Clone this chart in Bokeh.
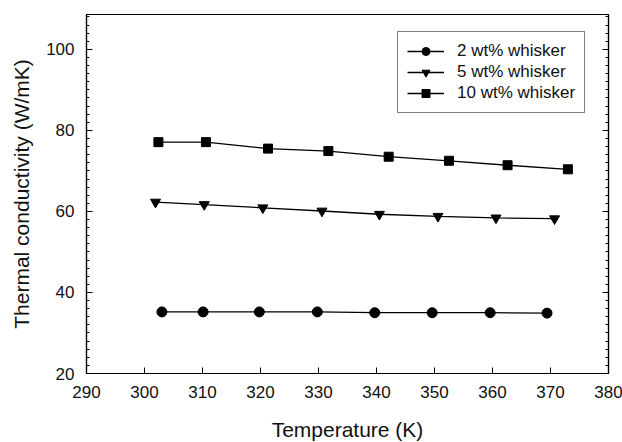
from bokeh.plotting import figure
from bokeh.models import (Legend, LegendItem, LinearAxis, Range1d, FixedTicker,
                          CustomLabelingPolicy)
from bokeh.embed import file_html
from bokeh.resources import INLINE

# Data
temp_2 = [303.0, 310.1, 319.8, 329.8, 339.7, 349.6, 359.6, 369.4]
k_2 = [35.2, 35.2, 35.2, 35.2, 35.0, 35.0, 35.0, 34.9]

temp_5 = [301.9, 310.3, 320.4, 330.6, 340.5, 350.6, 360.6, 370.7]
k_5 = [62.3, 61.7, 60.9, 60.1, 59.3, 58.8, 58.4, 58.2]

temp_10 = [302.4, 310.6, 321.3, 331.7, 342.1, 352.5, 362.6, 373.0]
k_10 = [77.1, 77.1, 75.5, 74.9, 73.5, 72.5, 71.4, 70.4]

series_labels = ["2 wt% whisker", "5 wt% whisker", "10 wt% whisker"]
x_ticks = [290, 300, 310, 320, 330, 340, 350, 360, 370, 380]
y_ticks = [20, 40, 60, 80, 100]
y_minor = list(range(20, 110, 2))

FONT = "Liberation Sans"
TXT = "#111111"

p = figure(width=622, height=442, output_backend="svg", toolbar_location=None,
           x_range=Range1d(290, 380), y_range=Range1d(20, 108.6),
           frame_width=522, frame_height=359,
           min_border_left=86, min_border_right=0, min_border_top=14, min_border_bottom=0)
p.grid.visible = False
p.background_fill_color = "white"
p.border_fill_color = "white"
p.outline_line_color = "black"
p.outline_line_width = 1.2

for ax in [p.xaxis[0], p.yaxis[0]]:
    ax.major_tick_in = 6
    ax.major_tick_out = 0
    ax.minor_tick_in = 3
    ax.minor_tick_out = 0
    ax.axis_line_color = "black"
    ax.axis_line_width = 1.2
    ax.major_tick_line_color = "black"
    ax.minor_tick_line_color = "black"
    ax.major_label_text_font = FONT
    ax.major_label_text_font_size = "17px"
    ax.major_label_text_color = TXT
    ax.axis_label_text_font = FONT
    ax.axis_label_text_font_size = "21px"
    ax.axis_label_text_font_style = "normal"
    ax.axis_label_text_color = TXT

p.xaxis[0].ticker = FixedTicker(ticks=x_ticks)
p.xaxis[0].minor_tick_line_color = None
p.xaxis[0].axis_label = "Temperature (K)"
p.xaxis[0].major_label_standoff = 12
p.xaxis[0].axis_label_standoff = 17

p.yaxis[0].ticker = FixedTicker(ticks=y_ticks, minor_ticks=y_minor)
p.yaxis[0].axis_label = "Thermal conductivity (W/mK)"
p.yaxis[0].major_label_standoff = 12
p.yaxis[0].axis_label_standoff = 10

right = LinearAxis(ticker=FixedTicker(ticks=y_ticks, minor_ticks=y_minor))
right.major_tick_in = 6
right.major_tick_out = 0
right.minor_tick_in = 3
right.minor_tick_out = 0
right.major_label_standoff = 0
right.axis_line_color = "black"
right.axis_line_width = 1.2
right.major_label_policy = CustomLabelingPolicy(
    code="for (const i of Array.from(indices)) { indices.unset(i) } return indices")
p.add_layout(right, "right")

lw = 1.3
l2 = p.line(temp_2, k_2, line_color="black", line_width=lw)
m2 = p.scatter(temp_2, k_2, marker="circle", size=10, fill_color="black", line_color="black")
l5 = p.line(temp_5, k_5, line_color="black", line_width=lw)
m5 = p.scatter(temp_5, k_5, marker="inverted_triangle", size=10, fill_color="black", line_color="black")
l10 = p.line(temp_10, k_10, line_color="black", line_width=lw)
m10 = p.scatter(temp_10, k_10, marker="square", size=9, fill_color="black", line_color="black")

legend = Legend(items=[
    LegendItem(label=series_labels[0], renderers=[l2, m2]),
    LegendItem(label=series_labels[1], renderers=[l5, m5]),
    LegendItem(label=series_labels[2], renderers=[l10, m10]),
], location=(311, 260))
legend.border_line_color = "black"
legend.border_line_width = 1.2
legend.background_fill_color = "white"
legend.background_fill_alpha = 1
legend.label_text_font = FONT
legend.label_text_font_size = "17px"
legend.label_text_color = TXT
legend.glyph_width = 37
legend.glyph_height = 20
legend.label_height = 20
legend.spacing = 1
legend.padding = 9
legend.margin = 0
legend.label_standoff = 13
p.add_layout(legend, "center")

open("out.html", "w").write(file_html(p, INLINE))
